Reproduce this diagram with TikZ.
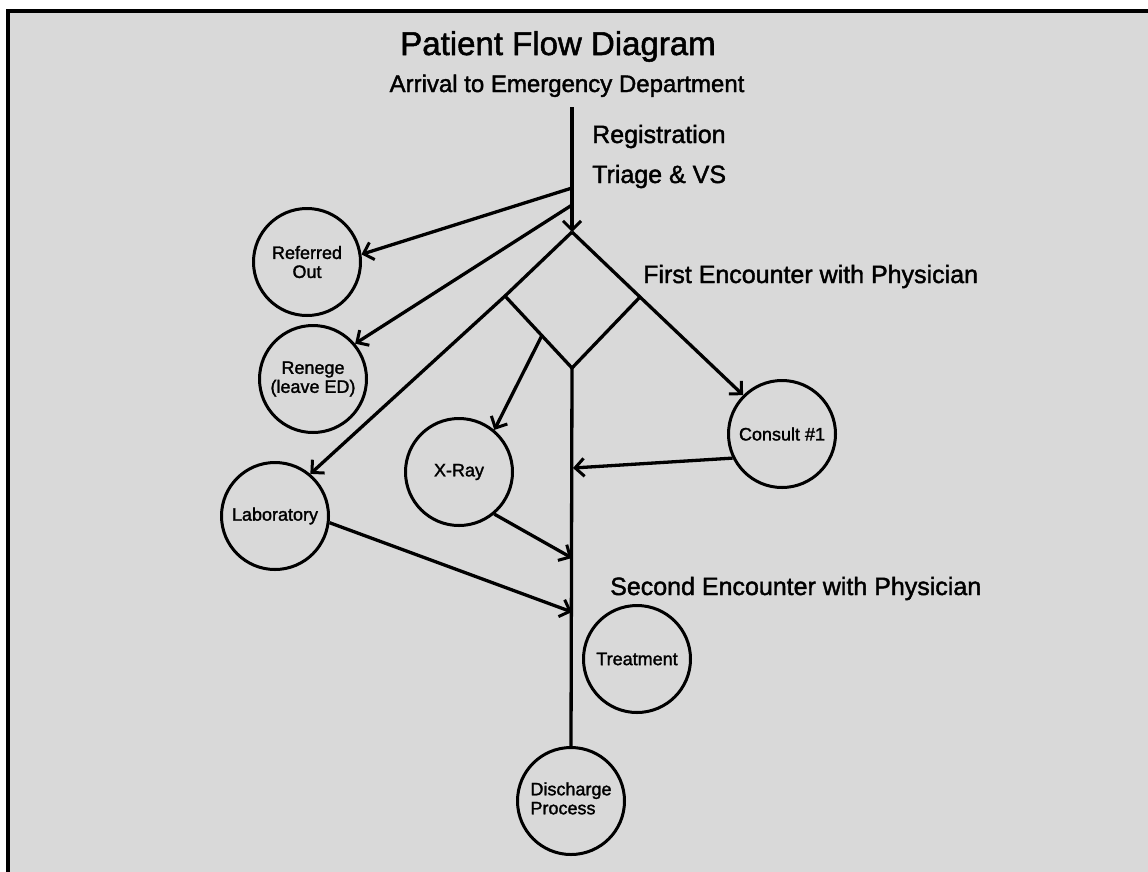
\documentclass[tikz,border=0pt]{standalone}
\usepackage{fontspec}
\setmainfont{Liberation Sans}[BoldFont={Liberation Sans},BoldFeatures={FakeBold=1.6}]
\usetikzlibrary{arrows.meta,calc}
\begin{document}
\begin{tikzpicture}[x=1pt,y=-1pt,
  circ/.style={circle, draw, line width=3pt, minimum size=107pt, inner sep=0pt,
    font=\fontsize{18}{19}\selectfont\bfseries, align=center},
  ln/.style={line width=3.3pt},
  arr/.style={ln, -{Straight Barb[length=9pt,width=18pt,line width=3pt]}},
  lbl/.style={anchor=base west, inner sep=0pt, font=\fontsize{25}{28}\selectfont\bfseries}
]
\useasboundingbox (0,0) rectangle (1148,871);
\fill[white] (0,0) rectangle (1148,871);
\fill[black!15] (8,11) rectangle (1160,885);
\draw[line width=3.5pt] (8,885) -- (8,11) -- (1160,11);

% titles
\node[anchor=base, inner sep=0pt, font=\fontsize{33}{36}\selectfont\bfseries] (title) at (558,55) {Patient Flow Diagram};
\node[anchor=base, inner sep=0pt, font=\fontsize{24}{27}\selectfont\bfseries] (sub) at (567,92) {Arrival to Emergency Department};
\node[lbl] (reg) at (592,143) {Registration};
\node[lbl] (tri) at (592,183) {Triage \& VS};
\node[lbl] (first) at (643,283) {First Encounter with Physician};
\node[lbl] (second) at (610,595) {Second Encounter with Physician};

% circles
\node[circ] (ref) at (307,262) {Referred\\Out};
\node[circ] (ren) at (313,379) {Renege\\(leave ED)};
\node[circ] (lab) at (275,516) {Laboratory};
\node[circ] (xray) at (459,472) {X-Ray};
\node[circ] (cons) at (782,434) {Consult \#1};
\node[circ] (treat) at (637,659) {Treatment};
\node[circ] (dis) at (571,801) {\begin{tabular}{@{}l@{}}Discharge\\Process\end{tabular}};

% trunk points
\coordinate (t0) at (572,107);
\coordinate (a1) at (572,188);
\coordinate (a2) at (572,205);
\coordinate (T) at (572,232);
\coordinate (L) at (505,296);
\coordinate (R) at (640,297);
\coordinate (B) at (572,368);
\coordinate (c1) at (573,468);
\coordinate (c2) at (572,558);
\coordinate (c3) at (572,612);

\draw[arr] (t0) -- (T);
\draw[arr] (a1) -- (ref.8);
\draw[arr] (a2) -- (ren.40);
\draw[arr] (T) -- (L) -- (lab.50);
\draw[arr] (T) -- (R) -- (cons.135);
\draw[ln, line join=miter] (L) -- (B) -- (R);
\draw[ln] (B) -- (dis.north);
\draw[arr] ($(L)!0.55!(B)$) -- (xray.50);
\draw[arr] (cons.206) -- (c1);
\draw[arr] (xray.310) -- (c2);
\draw[arr] (lab.353) -- (c3);
\end{tikzpicture}
\end{document}
